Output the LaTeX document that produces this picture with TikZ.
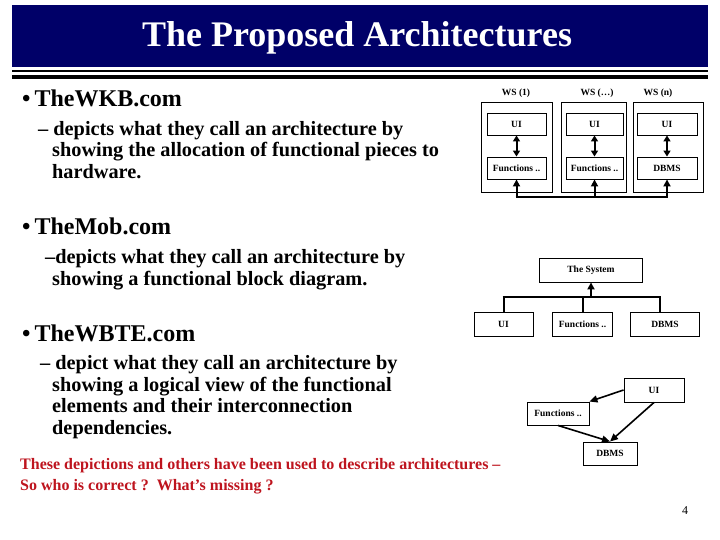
\documentclass[tikz,border=0pt]{standalone}
\usepackage{fontspec}
\setmainfont{Liberation Serif}
\usetikzlibrary{arrows.meta}
\definecolor{navy}{RGB}{0,0,104}
\definecolor{darkred}{RGB}{190,20,30}
\begin{document}
\begin{tikzpicture}[x=1pt,y=-1pt,
  head/.style={anchor=base west,inner sep=0pt,font=\fontsize{24}{28}\selectfont\bfseries},
  sub/.style={anchor=base west,inner sep=0pt,font=\fontsize{20.3}{22}\selectfont\bfseries},
  note/.style={anchor=base west,inner sep=0pt,text=darkred,font=\fontsize{16}{18}\selectfont\bfseries},
  box/.style={draw,line width=0.9pt,inner sep=0pt,font=\fontsize{9.5}{11}\selectfont\bfseries},
  lbl/.style={inner sep=0pt,font=\fontsize{9.5}{11}\selectfont\bfseries},
  wire/.style={line width=2pt},
  arr/.style={line width=2pt,-{Triangle[length=7pt,width=7pt]}},
  dbl/.style={line width=2pt,{Triangle[length=6pt,width=7pt]}-{Triangle[length=6pt,width=7pt]}},
  thinarr/.style={line width=1.6pt,-{Triangle[length=8pt,width=7pt]}}]
\useasboundingbox (0,0) rectangle (720,540);
% title bar
\fill[navy] (12,5) rectangle (708,67);
\node[text=white,inner sep=0pt,font=\fontsize{36}{40}\selectfont\bfseries] (title) at (357,38) {The Proposed Architectures};
\fill[black] (12,70.5) rectangle (708,72.5);
\fill[black] (12,75.5) rectangle (708,79.5);
% left text
\node[head] (h1) at (22,107) {•\,TheWKB.com};
\node[sub] (s1a) at (38,136) {– depicts what they call an architecture by};
\node[sub] (s1b) at (52,157) {showing the allocation of functional pieces to};
\node[sub] (s1c) at (52,179) {hardware.};
\node[head] (h2) at (22,235) {•\,TheMob.com};
\node[sub] (s2a) at (45,263) {–depicts what they call an architecture by};
\node[sub] (s2b) at (52,285) {showing a functional block diagram.};
\node[head] (h3) at (22,341) {•\,TheWBTE.com};
\node[sub] (s3a) at (40,369) {– depict what they call an architecture by};
\node[sub] (s3b) at (52,391) {showing a logical view of the functional};
\node[sub] (s3c) at (52,412) {elements and their interconnection};
\node[sub] (s3d) at (52,434) {dependencies.};
\node[note] (n1) at (20,469) {These depictions and others have been used to describe architectures –};
\node[note] (n2) at (20,490) {So who is correct ?\ \ What’s missing ?};
\node[inner sep=0pt,font=\fontsize{12}{14}\selectfont] (pg) at (685,511) {4};
% diagram 1
\node[box,minimum width=71pt,minimum height=90pt] (ws1) at (516.5,147) {};
\node[box,minimum width=65pt,minimum height=90pt] (ws2) at (593.5,147) {};
\node[box,minimum width=70pt,minimum height=90pt] (ws3) at (668,147) {};
\node[lbl] (l1) at (516,93) {WS (1)};
\node[lbl] (l2) at (597,93) {WS (…)};
\node[lbl] (l3) at (658,93) {WS (n)};
\node[box,minimum width=59pt,minimum height=22pt] (u1) at (516.5,124) {UI};
\node[box,minimum width=59pt,minimum height=22pt] (f1) at (516.5,168) {Functions ..};
\node[box,minimum width=57pt,minimum height=22pt] (u2) at (594.5,124) {UI};
\node[box,minimum width=57pt,minimum height=22pt] (f2) at (594.5,168) {Functions ..};
\node[box,minimum width=60pt,minimum height=22pt] (u3) at (667,124) {UI};
\node[box,minimum width=60pt,minimum height=22pt] (d3) at (667,168) {DBMS};
\draw[dbl] (u1) -- (f1);
\draw[dbl] (u2) -- (f2);
\draw[dbl] (u3) -- (d3);
\coordinate (b1) at (516.5,197);
\coordinate (b2) at (594.5,197);
\coordinate (b3) at (667,197);
\draw[wire] ([xshift=-1pt]b1) -- ([xshift=1pt]b3);
\draw[arr] (b1) -- (f1.south);
\draw[arr] (b2) -- (f2.south);
\draw[arr] (b3) -- (d3.south);
% diagram 2
\node[box,minimum width=103pt,minimum height=24pt] (sys) at (591,270) {The System};
\node[box,minimum width=59pt,minimum height=24pt] (mu) at (503.5,324) {UI};
\node[box,minimum width=60pt,minimum height=24pt] (mf) at (582.5,324) {Functions ..};
\node[box,minimum width=69pt,minimum height=24pt] (md) at (665,324) {DBMS};
\coordinate (c1) at (503.5,297);
\coordinate (c2) at (582.5,297);
\coordinate (c3) at (660,297);
\coordinate (cs) at (591,297);
\draw[wire] ([xshift=-1pt]c1) -- ([xshift=1pt]c3);
\draw[wire] (c1) -- (mu.north);
\draw[wire] (c2) -- (mf.north);
\draw[wire] (c3) -- (c3 |- md.north);
\draw[arr] (cs) -- (sys.south);
% diagram 3
\node[box,minimum width=60pt,minimum height=24pt] (wu) at (654,390) {UI};
\node[box,minimum width=62pt,minimum height=23pt] (wf) at (558,413.5) {Functions ..};
\node[box,minimum width=54pt,minimum height=23pt] (wd) at (610,453.5) {DBMS};
\draw[thinarr] (wu.west) -- (wf.north east);
\draw[thinarr] (wu.south) -- (wd.north);
\draw[thinarr] (wf.south) -- (wd.north);
\end{tikzpicture}
\end{document}
